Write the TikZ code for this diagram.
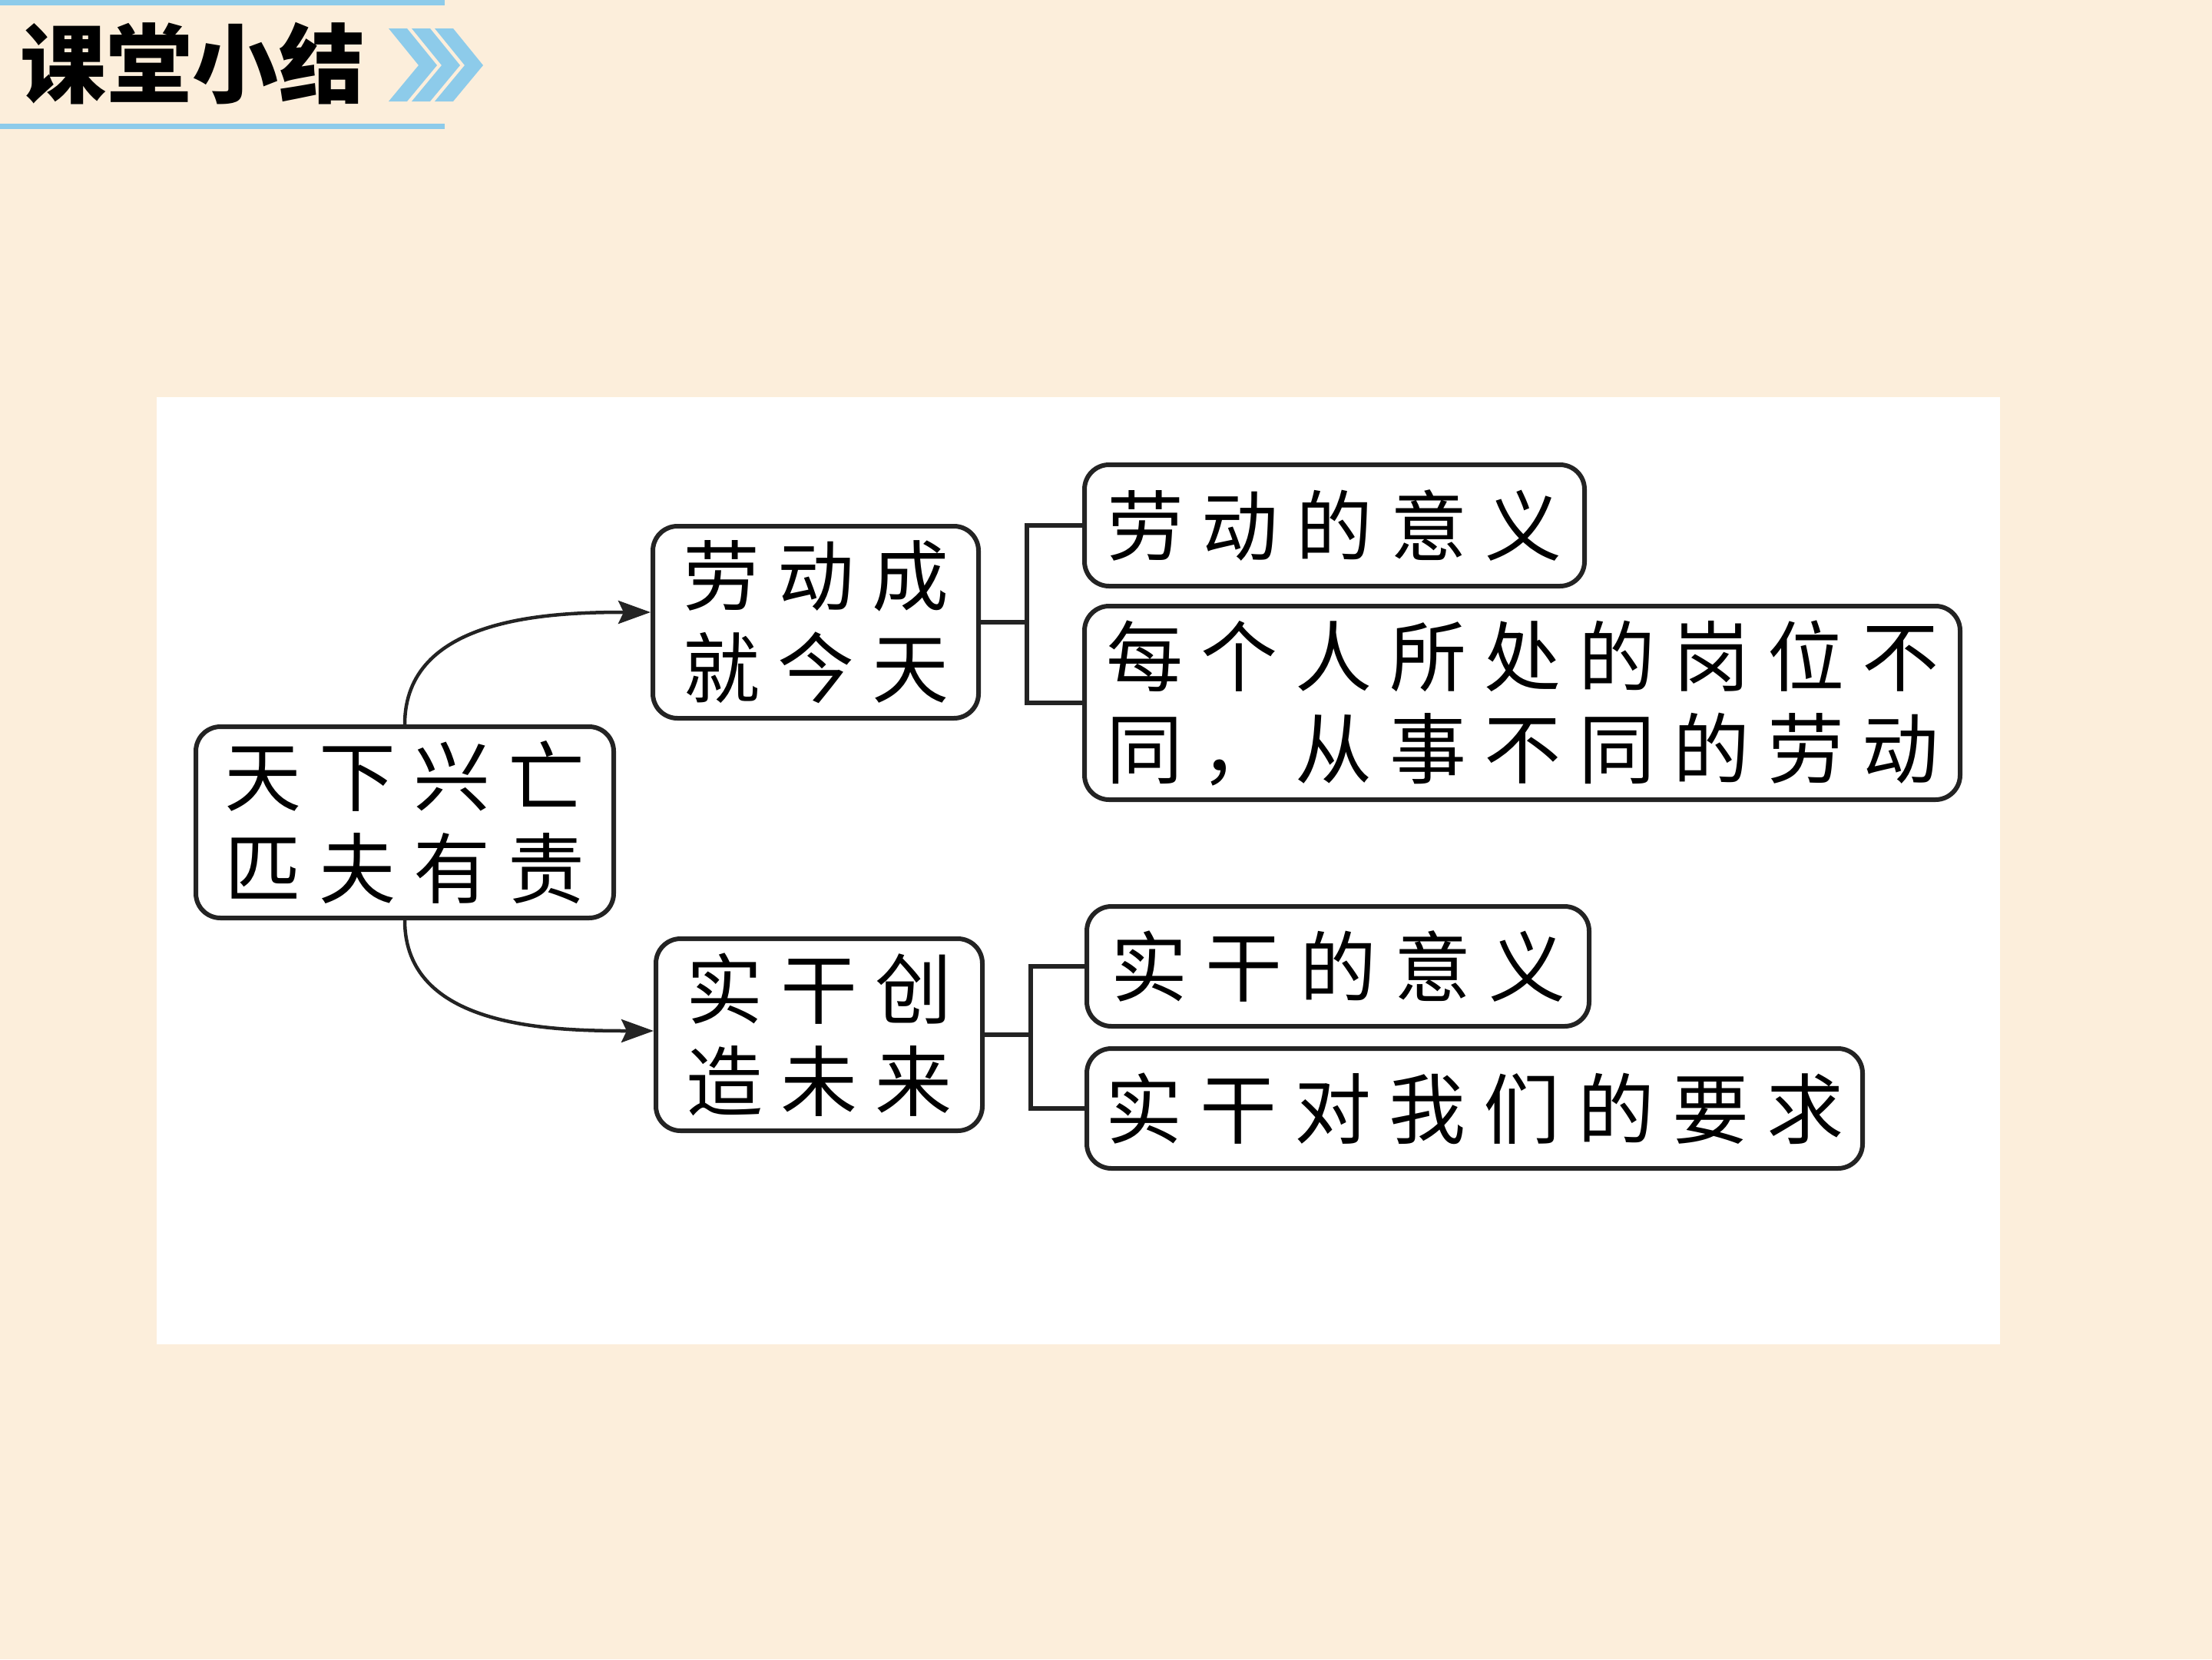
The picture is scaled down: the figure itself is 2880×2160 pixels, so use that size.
\documentclass[tikz,border=0pt]{standalone}
\usepackage{fontspec}
\newfontfamily\cjk{Noto Sans CJK SC}
\usetikzlibrary{arrows.meta}
\definecolor{bg}{RGB}{252,238,219}
\definecolor{hblue}{RGB}{141,203,234}
\definecolor{boxline}{RGB}{35,35,35}
\newcommand\g{\hspace{23pt}}
\begin{document}
\begin{tikzpicture}[x=1pt,y=1pt,
  box/.style={draw=boxline, line width=6pt, rounded corners=32pt, fill=white, inner sep=0pt, align=center, font=\cjk\fontsize{100}{120}\selectfont},
  conn/.style={draw=boxline, line width=6pt},
  arr/.style={draw=boxline, line width=4.5pt, -{Stealth[length=42pt,width=30pt,inset=7pt]}},
  chev/.style={fill=hblue}]
\fill[bg] (0,0) rectangle (2880,-2160);
\useasboundingbox (0,0) rectangle (2880,-2160);
% header
\fill[hblue] (0,0) rectangle (579,-7);
\fill[hblue] (0,-161) rectangle (579,-168);
\node[font=\cjk\bfseries\fontsize{112}{112}\selectfont, inner sep=0pt] (title) at (251,-83) {课堂小结};
\foreach \i in {0,1,2}{
  \fill[chev, xshift=30*\i] (506,-37) -- (530,-37) -- (569,-85) -- (530,-132) -- (506,-132) -- (545,-85) -- cycle;
}
% white panel
\fill[white] (204,-517) rectangle (2604,-1750);
% boxes
\node[box, minimum width=544pt, minimum height=249pt] (root) at (527,-1070.5) {天\g 下\g 兴\g 亡\\匹\g 夫\g 有\g 责};
\node[box, minimum width=424pt, minimum height=250pt] (A) at (1062,-810) {劳\g 动\g 成\\就\g 今\g 天};
\node[box, minimum width=425pt, minimum height=250pt] (B) at (1066.5,-1347) {实\g 干\g 创\\造\g 未\g 来};
\node[box, minimum width=651pt, minimum height=158pt] (A1) at (1737.5,-684) {劳\g 动\g 的\g 意\g 义};
\node[box, minimum width=1140pt, minimum height=252pt] (A2) at (1982,-915) {每\g 个\g 人\g 所\g 处\g 的\g 岗\g 位\g 不\\同\g ，\g 从\g 事\g 不\g 同\g 的\g 劳\g 动};
\node[box, minimum width=654pt, minimum height=156pt] (B1) at (1742,-1258) {实\g 干\g 的\g 意\g 义};
\node[box, minimum width=1010pt, minimum height=156pt] (B2) at (1920,-1443) {实\g 干\g 对\g 我\g 们\g 的\g 要\g 求};
% connectors
\coordinate (ja) at (1337,-810);
\coordinate (jb) at (1342,-1347);
\draw[conn] (A.east) -- (ja);
\draw[conn] (A1.west) -| (ja);
\draw[conn] (A2.west) -| (ja);
\draw[conn] (B.east) -- (jb);
\draw[conn] (B1.west) -| (jb);
\draw[conn] (B2.west) -| (jb);
% arrows
\draw[arr] (root.north) to[out=90,in=180] ([yshift=13pt]A.west);
\draw[arr] (root.south) to[out=-90,in=180] ([yshift=5pt]B.west);
\end{tikzpicture}
\end{document}
